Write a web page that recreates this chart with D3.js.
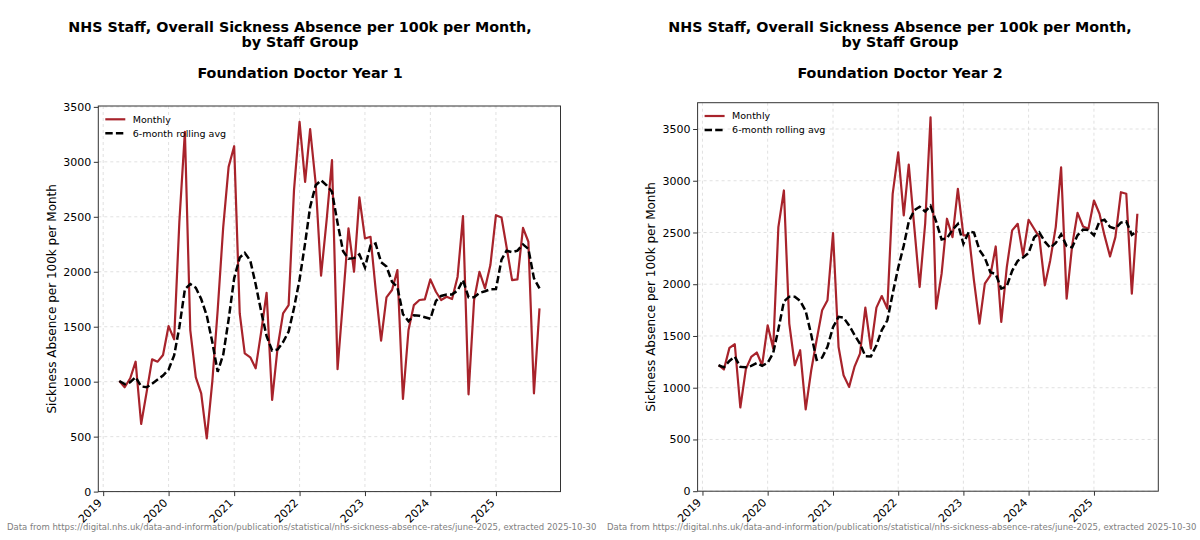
<!DOCTYPE html>
<html lang="en">
<head>
    <meta charset="UTF-8">
    <title>NHS Staff, Overall Sickness Absence per 100k per Month, by Staff Group</title>
    <script src="https://d3js.org/d3.v7.min.js"></script>
    <style>
        body {
            margin: 0;
            background: #fff;
            font-family: "DejaVu Sans", sans-serif;
        }

        svg text {
            font-family: "DejaVu Sans", sans-serif;
        }

        .grid line {
            stroke: #d9d9d9;
            stroke-width: 0.8px;
            stroke-dasharray: 3 3;
        }

        .monthly {
            fill: none;
            stroke: #a8232b;
            stroke-width: 2.2px;
            stroke-linejoin: round;
        }

        .rolling {
            fill: none;
            stroke: #000;
            stroke-width: 2.5px;
            stroke-dasharray: 7.4 3.2;
        }
    </style>
</head>
<body>

<svg id="chart" width="1200" height="540"></svg>

<script>
    // months Apr 2019 .. Sep 2025
    const months = [
        "2019-04", "2019-05", "2019-06", "2019-07", "2019-08", "2019-09", "2019-10", "2019-11", "2019-12",
        "2020-01", "2020-02", "2020-03", "2020-04", "2020-05", "2020-06", "2020-07", "2020-08", "2020-09", "2020-10", "2020-11", "2020-12",
        "2021-01", "2021-02", "2021-03", "2021-04", "2021-05", "2021-06", "2021-07", "2021-08", "2021-09", "2021-10", "2021-11", "2021-12",
        "2022-01", "2022-02", "2022-03", "2022-04", "2022-05", "2022-06", "2022-07", "2022-08", "2022-09", "2022-10", "2022-11", "2022-12",
        "2023-01", "2023-02", "2023-03", "2023-04", "2023-05", "2023-06", "2023-07", "2023-08", "2023-09", "2023-10", "2023-11", "2023-12",
        "2024-01", "2024-02", "2024-03", "2024-04", "2024-05", "2024-06", "2024-07", "2024-08", "2024-09", "2024-10", "2024-11", "2024-12",
        "2025-01", "2025-02", "2025-03", "2025-04", "2025-05", "2025-06", "2025-07", "2025-08", "2025-09"
    ];

    // Foundation Doctor Year 1
    const fy1Monthly = [
        1006, 949, 1031, 1182, 615, 909, 1203, 1182, 1243,
        1506, 1385, 2450, 3273, 1470, 1040, 894, 485, 1000, 1650, 2409, 2954,
        3142, 1621, 1258, 1222, 1121, 1455, 1809, 834, 1318, 1621, 1697, 2743,
        3364, 2818, 3297, 2803, 1964, 2470, 3015, 1113, 1750, 2394, 2000, 2676,
        2303, 2318, 1850, 1373, 1767, 1834, 2015, 843, 1470, 1697, 1743, 1749,
        1931, 1818, 1743, 1773, 1752, 1955, 2506, 885, 1743, 2000, 1849, 2061,
        2515, 2494, 2227, 1924, 1931, 2400, 2273, 894, 1667
    ];
    const fy1Rolling = [
        1006, 978, 995, 1042, 957, 949, 982, 1020, 1056,
        1110, 1238, 1495, 1840, 1888, 1854, 1752, 1602, 1360, 1090, 1246, 1565,
        1940, 2129, 2172, 2101, 1886, 1637, 1414, 1283, 1293, 1360, 1456, 1670,
        1930, 2260, 2590, 2787, 2832, 2786, 2728, 2444, 2186, 2118, 2124, 2158,
        2039, 2240, 2257, 2087, 2048, 1908, 1860, 1614, 1550, 1604, 1600, 1586,
        1572, 1735, 1780, 1793, 1794, 1829, 1925, 1769, 1769, 1807, 1823, 1841,
        1842, 2110, 2191, 2178, 2192, 2249, 2208, 1942, 1848
    ];

    // Foundation Doctor Year 2
    const fy2Monthly = [
        1217, 1176, 1385, 1420, 809, 1180, 1298, 1340, 1217,
        1603, 1379, 2552, 2906, 1620, 1217, 1362, 790, 1169, 1459, 1748, 1845,
        2494, 1394, 1121, 1008, 1201, 1330, 1774, 1379, 1774, 1886, 1764, 2874,
        3275, 2665, 3157, 2552, 1973, 2587, 3613, 1764, 2102, 2633, 2455, 2922,
        2472, 2472, 2037, 1620, 2006, 2086, 2365, 1635, 2166, 2520, 2584, 2279,
        2623, 2536, 2455, 1989, 2230, 2552, 3130, 1861, 2375, 2690, 2558, 2536,
        2809, 2681, 2472, 2269, 2455, 2889, 2874, 1909, 2681
    ];
    const fy2Rolling = [
        1217, 1197, 1259, 1300, 1201, 1198, 1211, 1239, 1211,
        1241, 1336, 1565, 1833, 1880, 1880, 1839, 1741, 1511, 1270, 1291, 1396,
        1584, 1685, 1677, 1602, 1511, 1425, 1305, 1302, 1411, 1557, 1651, 1909,
        2159, 2373, 2604, 2715, 2749, 2702, 2758, 2608, 2432, 2445, 2526, 2582,
        2391, 2509, 2499, 2330, 2255, 2116, 2098, 1958, 1980, 2130, 2226, 2258,
        2301, 2451, 2500, 2411, 2352, 2398, 2482, 2370, 2356, 2473, 2528, 2525,
        2472, 2608, 2624, 2554, 2537, 2596, 2607, 2478, 2513
    ];

    const yearTicks = [2019, 2020, 2021, 2022, 2023, 2024, 2025];
    const yTicks = [0, 500, 1000, 1500, 2000, 2500, 3000, 3500];

    const titleLines = ["NHS Staff, Overall Sickness Absence per 100k per Month,", "by Staff Group"];
    const legendLabels = ["Monthly", "6-month rolling avg"];
    const yLabel = "Sickness Absence per 100k per Month";
    const sourceNote = "Data from https://digital.nhs.uk/data-and-information/publications/statistical/nhs-sickness-absence-rates/june-2025, extracted 2025-10-30";

    const parseMonth = d3.timeParse("%Y-%m");
    const dates = months.map(parseMonth);

    const svg = d3.select("#chart");
    svg.append("rect").attr("width", 1200).attr("height", 540).attr("fill", "#fff");

    function drawPanel(opts) {
        const g = svg.append("g").attr("transform", `translate(${opts.offset},0)`);
        const m = opts.box;

        // titles (centred on each 600px half, like a suptitle)
        [[titleLines[0], 32], [titleLines[1], 47], [opts.subtitle, 78]].forEach(([txt, ty]) => {
            g.append("text")
             .attr("x", 300).attr("y", ty)
             .attr("text-anchor", "middle")
             .attr("font-size", 14.3).attr("font-weight", "bold")
             .text(txt);
        });

        // x scale with 5% padding around the data, like matplotlib
        const t0 = +dates[0], t1 = +dates[dates.length - 1];
        const pad = (t1 - t0) * 0.05;
        const x = d3.scaleTime()
                    .domain([new Date(t0 - pad), new Date(t1 + pad)])
                    .range([m.left, m.right]);

        const all = opts.monthly.concat(opts.rolling);
        const ymax = d3.max(all), ymin = d3.min(all);
        const y = d3.scaleLinear()
                    .domain([0, ymax + (ymax - ymin) * 0.05])
                    .range([m.bottom, m.top]);

        const yearDates = yearTicks.map(yr => new Date(yr, 0, 1));

        // grid
        g.append("g").attr("class", "grid")
         .selectAll("line").data(yTicks).join("line")
         .attr("x1", m.left).attr("x2", m.right)
         .attr("y1", d => y(d)).attr("y2", d => y(d));
        g.append("g").attr("class", "grid")
         .selectAll("line").data(yearDates).join("line")
         .attr("x1", d => x(d)).attr("x2", d => x(d))
         .attr("y1", m.top).attr("y2", m.bottom);

        // lines
        const line = d3.line()
                       .x((d, i) => x(dates[i]))
                       .y(d => y(d));
        g.append("path").attr("class", "monthly").attr("d", line(opts.monthly));
        g.append("path").attr("class", "rolling").attr("d", line(opts.rolling));

        // axes
        const xAxis = g.append("g")
                       .attr("transform", `translate(0,${m.bottom})`)
                       .call(d3.axisBottom(x).tickValues(yearDates)
                               .tickFormat(d3.timeFormat("%Y")).tickSize(4.5).tickSizeOuter(0));
        xAxis.selectAll("text")
             .attr("font-size", 11).attr("fill", "#000")
             .attr("text-anchor", "end")
             .attr("dy", null).attr("y", 0)
             .attr("transform", "translate(-1,12) rotate(-45)");

        const yAxis = g.append("g")
                       .attr("transform", `translate(${m.left},0)`)
                       .call(d3.axisLeft(y).tickValues(yTicks).tickFormat(d3.format("d"))
                               .tickSize(4.5).tickPadding(2.5).tickSizeOuter(0));
        yAxis.selectAll("text").attr("font-size", 11).attr("fill", "#000");

        [xAxis, yAxis].forEach(a => {
            a.select(".domain").remove();
            a.selectAll(".tick line").attr("stroke", "#333");
        });

        // frame
        g.append("rect")
         .attr("x", m.left).attr("y", m.top)
         .attr("width", m.right - m.left).attr("height", m.bottom - m.top)
         .attr("fill", "none").attr("stroke", "#333").attr("stroke-width", 1);

        // y label
        g.append("text")
         .attr("transform", `translate(${m.left - 46.5},${(m.top + m.bottom) / 2}) rotate(-90)`)
         .attr("text-anchor", "middle")
         .attr("dy", "0.35em")
         .attr("font-size", 12)
         .text(yLabel);

        // legend
        const lg = g.append("g").attr("transform", `translate(${m.left + 7},${m.top + 13.3})`);
        lg.append("line").attr("x1", 0).attr("x2", 20).attr("y1", 0).attr("y2", 0)
          .attr("class", "monthly");
        lg.append("line").attr("x1", 0).attr("x2", 20).attr("y1", 14).attr("y2", 14)
          .attr("class", "rolling");
        lg.selectAll("text.lab").data(legendLabels).join("text")
          .attr("class", "lab")
          .attr("x", 27.5).attr("y", (d, i) => i * 14)
          .attr("dy", "0.35em")
          .attr("font-size", 9.5)
          .text(d => d);

        // source note
        g.append("text")
         .attr("x", 7).attr("y", 530)
         .attr("font-size", 8.5).attr("fill", "#808080")
         .text(sourceNote);
    }

    drawPanel({
        offset: 0,
        subtitle: "Foundation Doctor Year 1",
        monthly: fy1Monthly,
        rolling: fy1Rolling,
        box: { left: 98.3, right: 560.5, top: 106, bottom: 491.6 }
    });

    drawPanel({
        offset: 600,
        subtitle: "Foundation Doctor Year 2",
        monthly: fy2Monthly,
        rolling: fy2Rolling,
        box: { left: 97.6, right: 558.3, top: 102.7, bottom: 491.2 }
    });
</script>

</body>
</html>
